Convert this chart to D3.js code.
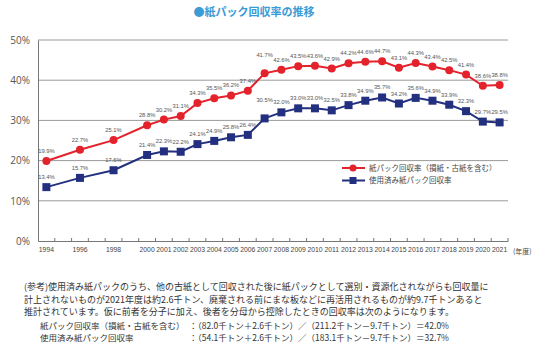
<!DOCTYPE html>
<html>
<head>
<meta charset="utf-8">
<script src="https://cdn.jsdelivr.net/npm/d3@7"></script>
<style>
body{margin:0;background:#fff;}
svg{display:block;font-family:"Noto Sans CJK JP","Liberation Sans",sans-serif;}
</style>
</head>
<body>
<div class="chart"></div>
<script>
let years=d3.range(1994,2022).map(String)
let dataYears=['1994','1996','1998','2000','2001','2002','2003','2004','2005','2006','2007','2008','2009','2010','2011','2012','2013','2014','2015','2016','2017','2018','2019','2020','2021']
let totalRate=[19.9,22.7,25.1,28.8,30.2,31.1,34.3,35.5,36.2,37.4,41.7,42.6,43.5,43.6,42.9,44.2,44.6,44.7,43.1,44.3,43.4,42.5,41.4,38.6,38.8]
let usedRate=[13.4,15.7,17.6,21.4,22.3,22.2,24.1,24.9,25.8,26.4,30.5,32.0,33.0,33.0,32.5,33.8,34.9,35.7,34.2,35.6,34.9,33.9,32.3,29.7,29.5]
let yTicks=[0,10,20,30,40,50]
let seriesNames=['紙パック回収率（損紙・古紙を含む）','使用済み紙パック回収率']
let title='●紙パック回収率の推移'
let notes=[
  '(参考)使用済み紙パックのうち、他の古紙として回収された後に紙パックとして選別・資源化されながらも回収量に',
  '計上されないものが2021年度は約2.6千トン、廃棄される前にまな板などに再活用されるものが約9.7千トンあると',
  '推計されています。仮に前者を分子に加え、後者を分母から控除したときの回収率は次のようになります。'
]
let calcLabels=['紙パック回収率（損紙・古紙を含む）','使用済み紙パック回収率']
let calcText=['：（82.0千トン＋2.6千トン）／（211.2千トン－9.7千トン）＝42.0%','：（54.1千トン＋2.6千トン）／（183.1千トン－9.7千トン）＝32.7%']

let w=540, h=363
let red='#e3222c', blue='#22307f'
let svg=d3.select('.chart').append('svg').attr('width',w).attr('height',h)

svg.append('text').text(title).attr('x',254).attr('y',16).attr('text-anchor','middle')
  .style('font-size','11px').style('font-weight','bold').style('fill','#3a9bd6')

let x=d3.scaleBand().domain(years).range([38,508])
let y=d3.scaleLinear().domain([0,50]).range([241,40])
let cx=d=>x(d)+x.bandwidth()/2

// grid
svg.selectAll(null).data(yTicks.filter(d=>d>0)).enter().append('line')
  .attr('x1',38).attr('x2',508).attr('y1',d=>y(d)).attr('y2',d=>y(d))
  .style('stroke','#9a9a9a').style('stroke-width',1)

// y axis
let yAxis=d3.axisLeft(y).tickValues(yTicks).tickSize(0).tickPadding(8).tickFormat(d=>d+'%')
let gy=svg.append('g').attr('transform','translate(38,0)').call(yAxis)
gy.select('.domain').style('stroke','#777')
gy.selectAll('text').style('font-size','10px').style('fill','#555').style('font-family','"Open Sans",sans-serif')

// x axis
let xAxis=d3.axisBottom(x).tickSize(0).tickPadding(6).tickFormat(d=>dataYears.includes(d)?d:'')
let gx=svg.append('g').attr('transform','translate(0,241)').call(xAxis)
gx.select('.domain').style('stroke','#777')
gx.selectAll('text').style('font-size','6.8px').style('fill','#444').style('font-family','"Liberation Sans",sans-serif')
svg.selectAll(null).data(years).enter().append('line')
  .attr('x1',d=>x(d)+x.step()).attr('x2',d=>x(d)+x.step()).attr('y1',241).attr('y2',238)
  .style('stroke','#777')
svg.append('text').text('(年度)').attr('x',513).attr('y',254).style('font-size','7px').style('fill','#444')

function drawSeries(vals,color,shape){
  let pts=dataYears.map((d,i)=>({year:d,v:vals[i],prev:i>0?vals[i-1]:vals[i]}))
  let line=d3.line().x(d=>cx(d.year)).y(d=>y(d.v))
  svg.append('path').datum(pts).attr('d',line).style('fill','none').style('stroke',color).style('stroke-width',2)
  if(shape=='circle'){
    svg.selectAll(null).data(pts).enter().append('circle')
      .attr('cx',d=>cx(d.year)).attr('cy',d=>y(d.v)).attr('r',4).style('fill',color)
  }else{
    svg.selectAll(null).data(pts).enter().append('rect')
      .attr('x',d=>cx(d.year)-4).attr('y',d=>y(d.v)-4).attr('width',8).attr('height',8).style('fill',color)
  }
  svg.selectAll(null).data(pts).enter().append('text')
    .text(d=>d.v.toFixed(1)+'%')
    .attr('x',d=>cx(d.year)).attr('y',d=>y(d.v)-(d.v-d.prev>4?16:8))
    .attr('text-anchor','middle')
    .style('font-size','5.8px').style('fill','#555').style('font-family','"Liberation Sans",sans-serif')
}
drawSeries(totalRate,red,'circle')
drawSeries(usedRate,blue,'square')

// legend
let lg=svg.append('g')
;[red,blue].forEach((c,i)=>{
  let ly=168+i*12.5
  lg.append('line').attr('x1',342).attr('x2',365).attr('y1',ly).attr('y2',ly).style('stroke',c).style('stroke-width',2)
  if(i==0) lg.append('circle').attr('cx',353).attr('cy',ly).attr('r',3.5).style('fill',c)
  else lg.append('rect').attr('x',349.5).attr('y',ly-3.5).attr('width',7).attr('height',7).style('fill',c)
  lg.append('text').text(seriesNames[i]).attr('x',369).attr('y',ly+2.5).style('font-size','7.5px').style('fill','#444')
})

// notes
svg.selectAll(null).data(notes).enter().append('text')
  .text(d=>d).attr('x',24).attr('y',(d,i)=>290+i*12.5)
  .style('font-size','9px').style('fill','#333')
calcLabels.forEach((t,i)=>{
  svg.append('text').text(t).attr('x',40).attr('y',329+i*11.5).style('font-size','8.5px').style('fill','#333')
  svg.append('text').text(calcText[i]).attr('x',189).attr('y',329+i*11.5).style('font-size','8.5px').style('fill','#333')
})
</script>
</body>
</html>
